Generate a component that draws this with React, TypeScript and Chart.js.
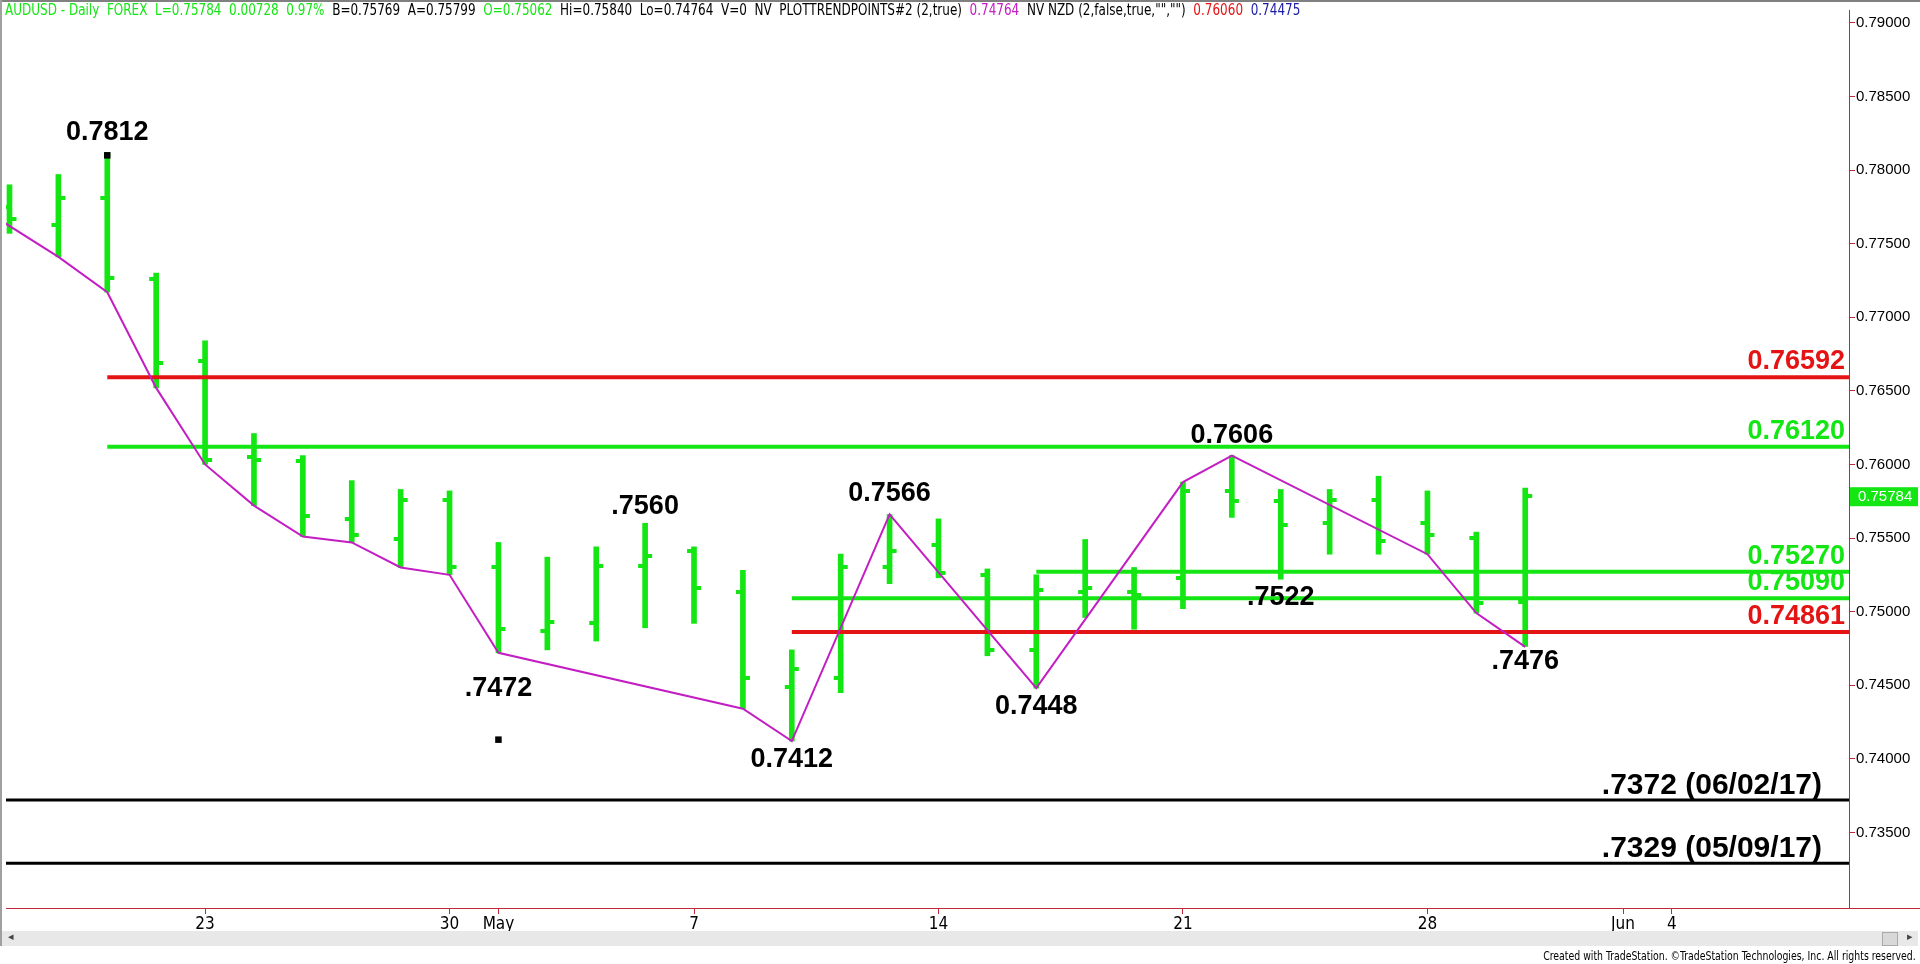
import React, { useEffect, useRef } from "react";
import { Chart, registerables } from "chart.js";

Chart.register(...registerables);

// ---------- data (trading-day index 0 = Apr 17, 2018) ----------
const dayIdx = [0, 1, 2, 3, 4, 5, 6, 7, 8, 9, 10, 11, 12, 13, 14, 15, 16, 17, 18, 19, 20, 21, 22, 23, 24, 25, 26, 27, 28, 29, 30, 31];
const opens = [0.7775, 0.7763, 0.7781, 0.7726, 0.767, 0.7605, 0.7602, 0.7563, 0.7549, 0.7576, 0.753, 0.7487, 0.7492, 0.7531, 0.7541, 0.7513, 0.7449, 0.7455, 0.753, 0.7545, 0.7525, 0.7474, 0.7513, 0.7513, 0.7523, 0.7582, 0.7575, 0.756, 0.7576, 0.756, 0.755, 0.75062];
const highs = [0.779, 0.7797, 0.7812, 0.773, 0.7684, 0.7621, 0.7606, 0.7589, 0.7583, 0.7582, 0.7547, 0.7537, 0.7544, 0.756, 0.7544, 0.7528, 0.7474, 0.7539, 0.7566, 0.7563, 0.7529, 0.7525, 0.7549, 0.753, 0.7588, 0.7606, 0.7583, 0.7583, 0.7592, 0.7582, 0.7554, 0.7584];
const lows = [0.7757, 0.7741, 0.7717, 0.7652, 0.76, 0.7572, 0.7551, 0.7547, 0.753, 0.7525, 0.7472, 0.7474, 0.748, 0.7489, 0.7492, 0.7434, 0.7412, 0.7445, 0.7519, 0.7523, 0.747, 0.7448, 0.7496, 0.7488, 0.7502, 0.7564, 0.7522, 0.7539, 0.7539, 0.7539, 0.7499, 0.74764];
const closes = [0.7767, 0.7781, 0.7727, 0.7669, 0.7603, 0.7603, 0.7565, 0.7552, 0.7576, 0.753, 0.7488, 0.7493, 0.7531, 0.7538, 0.7516, 0.7455, 0.7461, 0.753, 0.7541, 0.7526, 0.7474, 0.7515, 0.7516, 0.7511, 0.7582, 0.7575, 0.7559, 0.7576, 0.7548, 0.7552, 0.7506, 0.75784];

// magenta trend-point line (index, price)
const trendIdx = [-1, 1, 2, 3, 4, 5, 6, 7, 8, 9, 10, 15, 16, 18, 21, 24, 25, 29, 30, 31];
const trendVal = [0.7783, 0.7741, 0.7717, 0.7652, 0.76, 0.7572, 0.7551, 0.7547, 0.753, 0.7525, 0.7472, 0.7434, 0.7412, 0.7566, 0.7448, 0.7588, 0.7606, 0.7539, 0.7499, 0.7476];

// horizontal levels
const levelValues = [0.76592, 0.7612, 0.7527, 0.7509, 0.74861, 0.7372, 0.7329];
const levelStartIdx = [2, 2, 21, 16, 16, -1, -1];
const levelLabels = ["0.76592", "0.76120", "0.75270", "0.75090", "0.74861", ".7372 (06/02/17)", ".7329 (05/09/17)"];
const levelKinds = ["red", "green", "green", "green", "red", "black", "black"];

// pivot labels (index, anchor price)
const pivotIdx = [2, 10, 13, 16, 18, 21, 25, 26, 31];
const pivotText = ["0.7812", ".7472", ".7560", "0.7412", "0.7566", "0.7448", "0.7606", ".7522", ".7476"];
const pivotLabelY = [0.78252, 0.74474, 0.75714, 0.73996, 0.75801, 0.74353, 0.76198, 0.75094, 0.74663];

// black square markers
const markerIdx = [2, 10];
const markerVal = [0.781, 0.7413];

// axes
const xTickIdx = [4, 9, 10, 14, 19, 24, 29, 33, 34];
const xTickLabels = ["23", "30", "May", "7", "14", "21", "28", "Jun", "4"];
const yTickValues = [0.735, 0.74, 0.745, 0.75, 0.755, 0.76, 0.765, 0.77, 0.775, 0.78, 0.785, 0.79];
const lastPrice = 0.75784;

const X_MIN = -0.0714;
const X_MAX = 37.622;
const Y_MIN = 0.729862;
const Y_MAX = 0.790875;

const W = 1920;
const H = 964;
const GREEN = "#14e614";
const RED = "#e41414";
const MAGENTA = "#c31ec3";
const AXIS = "#c0283c";
const KIND_COLOR: Record<string, string> = { red: RED, green: GREEN, black: "#000000" };
const NARROW = '"Liberation Sans Narrow", "DejaVu Sans Condensed", "Liberation Sans", Arial, sans-serif';
const SANS = '"Liberation Sans", Arial, sans-serif';

function tickImage(side: "left" | "right") {
  const c = document.createElement("canvas");
  c.width = 20;
  c.height = 4;
  const g = c.getContext("2d")!;
  g.fillStyle = GREEN;
  if (side === "left") g.fillRect(3, 0, 8, 4);
  else g.fillRect(9, 0, 8, 4);
  return c;
}

const annotPlugin = {
  id: "annot",
  afterDatasetsDraw(chart: any) {
    const { ctx, chartArea } = chart;
    const x = chart.scales.x;
    const y = chart.scales.y;
    ctx.save();
    ctx.beginPath();
    ctx.rect(chartArea.left, chartArea.top, chartArea.right - chartArea.left, chartArea.bottom - chartArea.top);
    ctx.clip();
    // level labels
    levelValues.forEach((v, k) => {
      const py = y.getPixelForValue(v);
      const black = levelKinds[k] === "black";
      ctx.font = `bold ${black ? 30 : 27}px ${SANS}`;
      ctx.fillStyle = KIND_COLOR[levelKinds[k]];
      ctx.textAlign = "right";
      ctx.textBaseline = "alphabetic";
      ctx.fillText(levelLabels[k], chartArea.right - (black ? 27 : 4), py - (black ? 6 : 8));
    });
    // pivot labels
    ctx.font = `bold 27px ${SANS}`;
    ctx.fillStyle = "#000";
    ctx.textAlign = "center";
    ctx.textBaseline = "middle";
    pivotIdx.forEach((i, k) => {
      ctx.fillText(pivotText[k], x.getPixelForValue(i), y.getPixelForValue(pivotLabelY[k]));
    });
    ctx.restore();
  },
  afterDraw(chart: any) {
    const { ctx, chartArea } = chart;
    const y = chart.scales.y;
    ctx.save();
    ctx.strokeStyle = AXIS;
    ctx.lineWidth = 1;
    ctx.beginPath();
    ctx.moveTo(chartArea.right, Math.round(chartArea.bottom) + 0.5);
    ctx.lineTo(W, Math.round(chartArea.bottom) + 0.5);
    ctx.stroke();
    const py = y.getPixelForValue(lastPrice);
    ctx.fillStyle = GREEN;
    ctx.fillRect(chartArea.right + 1, py - 9, W - chartArea.right - 3, 19);
    ctx.fillStyle = "#ffffff";
    ctx.font = `15px ${SANS}`;
    ctx.textAlign = "left";
    ctx.textBaseline = "middle";
    ctx.fillText(lastPrice.toFixed(5), chartArea.right + 9, py + 1);
    ctx.restore();
  },
};

export default function App() {
  const ref = useRef<HTMLCanvasElement | null>(null);

  useEffect(() => {
    if (!ref.current) return;
    const leftTick = tickImage("left");
    const rightTick = tickImage("right");

    const levelSets = levelValues.map((v, k) => ({
      type: "line",
      data: [
        { x: levelStartIdx[k] < 0 ? X_MIN : levelStartIdx[k], y: v },
        { x: X_MAX, y: v },
      ],
      borderColor: KIND_COLOR[levelKinds[k]],
      borderWidth: levelKinds[k] === "black" ? 3 : 4,
      pointRadius: 0,
      order: 2,
    }));

    const chart = new Chart(ref.current, {
      type: "bar",
      data: {
        datasets: [
          {
            type: "line",
            data: trendIdx.map((i, k) => ({ x: i, y: trendVal[k] })),
            borderColor: MAGENTA,
            borderWidth: 2,
            pointRadius: 0,
            tension: 0,
            order: 0,
          },
          {
            type: "scatter",
            data: markerIdx.map((i, k) => ({ x: i, y: markerVal[k] })),
            pointStyle: "rect",
            pointRadius: 4.6,
            backgroundColor: "#000",
            borderWidth: 0,
            order: 1,
          },
          ...levelSets,
          {
            type: "scatter",
            data: dayIdx.map((i, k) => ({ x: i, y: opens[k] })),
            pointStyle: leftTick,
            pointRadius: 5,
            order: 3,
          },
          {
            type: "scatter",
            data: dayIdx.map((i, k) => ({ x: i, y: closes[k] })),
            pointStyle: rightTick,
            pointRadius: 5,
            order: 3,
          },
          {
            type: "bar",
            data: dayIdx.map((i, k) => ({ x: i, y: [lows[k], highs[k]] })),
            backgroundColor: GREEN,
            borderWidth: 0,
            barThickness: 5,
            order: 4,
          },
        ] as any,
      },
      options: {
        responsive: false,
        animation: false,
        devicePixelRatio: 1,
        events: [],
        layout: { padding: { left: 2, top: 2, right: 0, bottom: 0 } },
        plugins: { legend: { display: false }, tooltip: { enabled: false } },
        scales: {
          x: {
            type: "linear",
            position: "bottom",
            offset: false,
            min: X_MIN,
            max: X_MAX,
            afterFit: (s: any) => {
              s.height = 56;
            },
            afterBuildTicks: (s: any) => {
              s.ticks = xTickIdx.map((v) => ({ value: v }));
            },
            ticks: {
              autoSkip: false,
              maxRotation: 0,
              padding: 0,
              color: "#000",
              font: { family: NARROW, size: 17 },
              callback: (v: any) => {
                const k = xTickIdx.indexOf(Number(v));
                return k >= 0 ? xTickLabels[k] : "";
              },
            },
            grid: { offset: false, drawOnChartArea: false, drawTicks: true, tickLength: 6, color: AXIS },
            border: { color: AXIS, width: 1 },
          },
          y: {
            type: "linear",
            position: "right",
            min: Y_MIN,
            max: Y_MAX,
            afterFit: (s: any) => {
              s.width = 71;
            },
            afterBuildTicks: (s: any) => {
              s.ticks = yTickValues.map((v) => ({ value: v }));
            },
            ticks: {
              padding: 1,
              color: "#000",
              font: { family: SANS, size: 15 },
              callback: (v: any) => Number(v).toFixed(5),
            },
            grid: { drawOnChartArea: false, drawTicks: true, tickLength: 6, color: AXIS },
            border: { color: AXIS, width: 1 },
          },
        },
      } as any,
      plugins: [annotPlugin],
    });
    return () => chart.destroy();
  }, []);

  const hdr: React.CSSProperties = {
    position: "absolute",
    left: 5,
    top: 2,
    fontFamily: NARROW,
    fontSize: 15,
    whiteSpace: "pre",
    color: "#000",
    lineHeight: "17px",
    transform: "scaleX(0.89)",
    transformOrigin: "0 0",
  };

  return (
    <div style={{ position: "absolute", left: 0, top: 0, width: W, height: H, background: "#fff", overflow: "hidden" }}>
      <canvas ref={ref} width={W} height={H} style={{ position: "absolute", left: 0, top: 0, width: W, height: H }} />
      <div style={{ position: "absolute", left: 0, top: 0, width: W, height: 2, background: "#808080" }} />
      <div style={{ position: "absolute", left: 0, top: 0, width: 2, height: 946, background: "#a0a0a0" }} />
      <div style={hdr}>
        <span style={{ color: GREEN }}>AUDUSD - Daily  FOREX  L=0.75784  0.00728  0.97%</span>
        <span>  B=0.75769  A=0.75799  </span>
        <span style={{ color: GREEN }}>O=0.75062</span>
        <span>  Hi=0.75840  Lo=0.74764  V=0  NV  PLOTTRENDPOINTS#2 (2,true)  </span>
        <span style={{ color: MAGENTA }}>0.74764</span>
        <span>  NV NZD (2,false,true,"","")  </span>
        <span style={{ color: RED }}>0.76060</span>
        <span style={{ color: "#1c1ca8" }}>  0.74475</span>
      </div>
      <div style={{ position: "absolute", left: 2, top: 931, width: W - 4, height: 15, background: "#e8e8e8" }}>
        <span style={{ position: "absolute", left: 6, top: -1, fontSize: 11, color: "#444", fontFamily: SANS }}>◂</span>
        <div style={{ position: "absolute", right: 20, top: 1, width: 14, height: 12, background: "#d8d8d8", border: "1px solid #aaa" }} />
        <span style={{ position: "absolute", right: 5, top: -1, fontSize: 11, color: "#444", fontFamily: SANS }}>▸</span>
      </div>
      <div style={{ position: "absolute", right: 4, top: 948, fontFamily: NARROW, fontSize: 13, color: "#000", whiteSpace: "nowrap", lineHeight: "15px", transform: "scaleX(0.8)", transformOrigin: "100% 0" }}>
        Created with TradeStation. ©TradeStation Technologies, Inc. All rights reserved.
      </div>
    </div>
  );
}
